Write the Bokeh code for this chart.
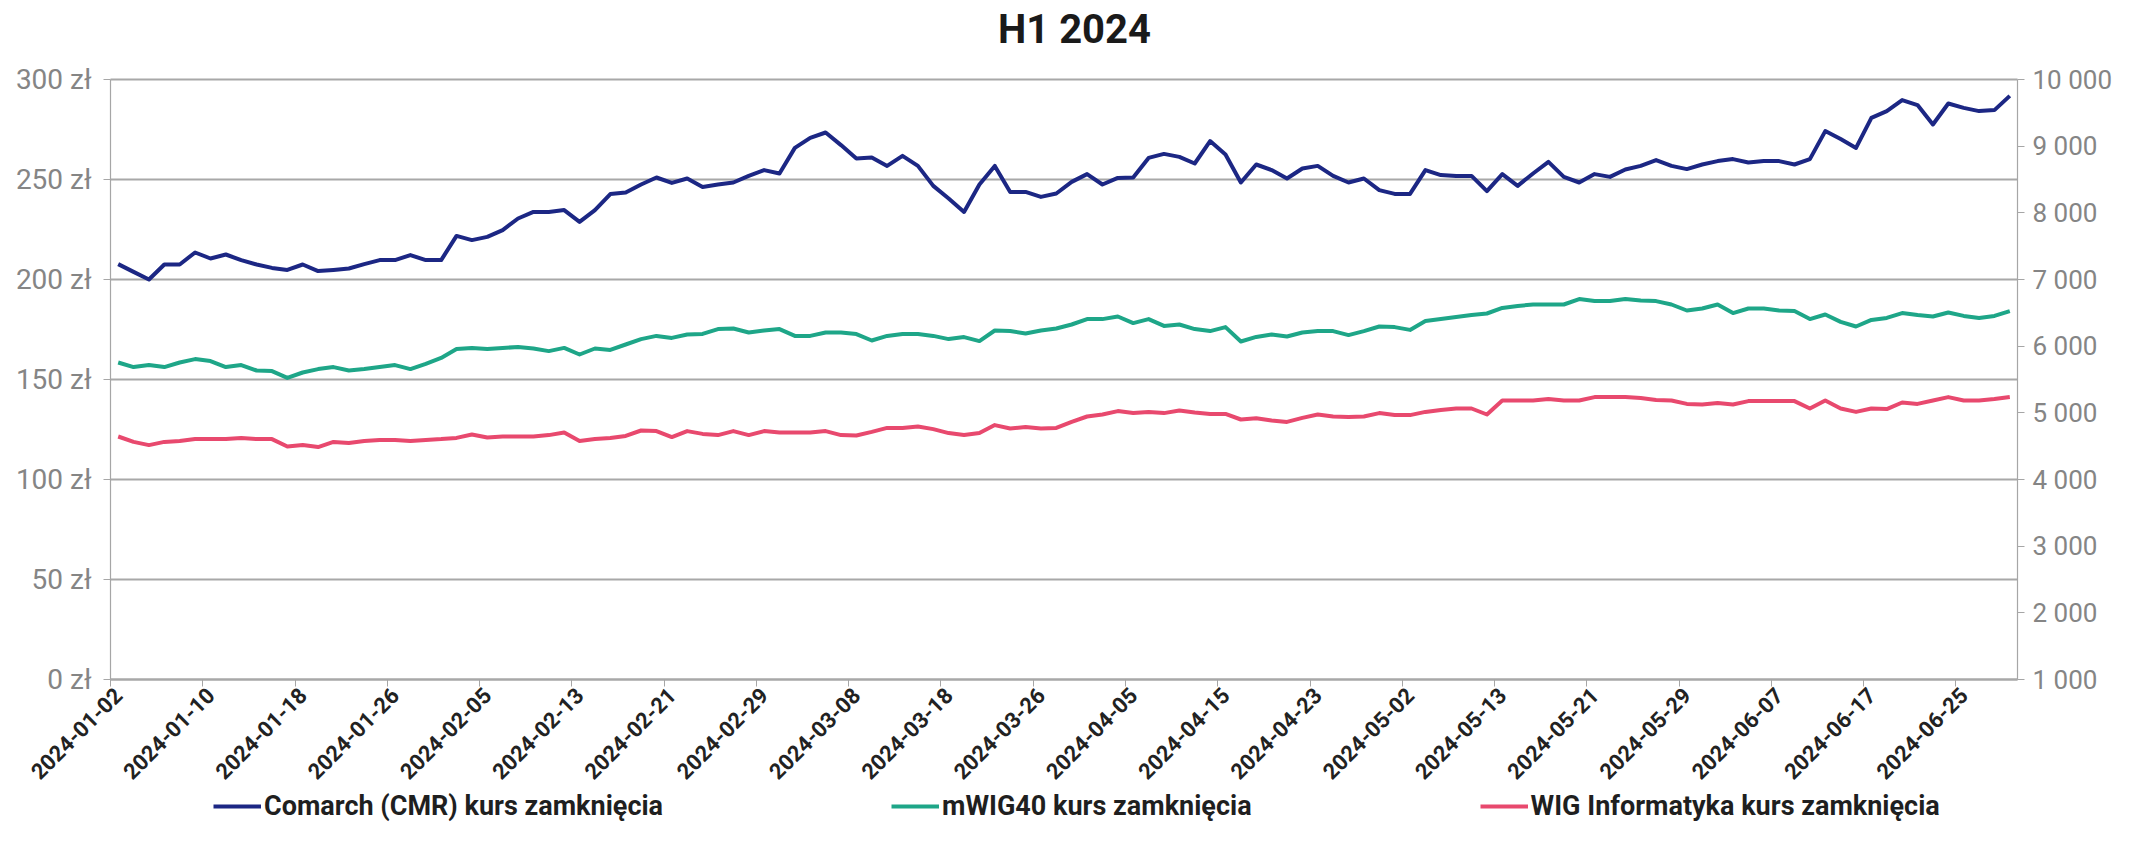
import pandas as pd
from math import pi
from bokeh.plotting import figure
from bokeh.models import (ColumnDataSource, Range1d, LinearAxis, FixedTicker,
                          Legend, LegendItem, Label)
from bokeh.embed import file_html
from bokeh.resources import INLINE

# Polish trading sessions H1 2024 (GPW holidays excluded)
holidays = ["2024-01-01", "2024-03-29", "2024-04-01", "2024-05-01", "2024-05-03", "2024-05-30"]
dates = [d.strftime("%Y-%m-%d") for d in
         pd.bdate_range("2024-01-02", "2024-06-28", freq="C", holidays=holidays)]

comarch = [207.7, 203.8, 200.0, 207.5, 207.5, 213.5, 210.5, 212.5, 209.7, 207.5,
           205.8, 204.8, 207.5, 204.2, 204.8, 205.5, 207.7, 209.7, 209.7, 212.2,
           209.7, 209.7, 221.8, 219.7, 221.3, 224.7, 230.5, 233.8, 233.8, 234.7,
           228.8, 234.7, 242.7, 243.5, 247.5, 251.0, 248.3, 250.5, 246.3, 247.5,
           248.5, 251.8, 254.7, 253.0, 265.8, 270.8, 273.5, 267.2, 260.5, 261.0,
           256.8, 261.8, 256.8, 246.8, 240.5, 233.8, 247.5, 256.8, 243.8, 243.8,
           241.3, 243.0, 248.8, 252.7, 247.5, 250.8, 251.0, 260.8, 262.8, 261.3,
           258.0, 269.2, 262.5, 248.5, 257.5, 254.7, 250.5, 255.5, 256.8, 251.8,
           248.5, 250.5, 244.7, 242.8, 242.8, 254.7, 252.2, 251.7, 251.8, 244.2,
           252.7, 246.8, 253.0, 258.8, 251.3, 248.5, 252.7, 251.3, 255.0, 256.8,
           259.7, 256.8, 255.2, 257.5, 259.2, 260.2, 258.5, 259.2, 259.2, 257.5,
           260.2, 274.2, 270.2, 265.8, 280.8, 284.2, 289.7, 287.2, 277.5, 288.0,
           285.8, 284.2, 284.7, 291.8]

mwig40 = [5755, 5686, 5716, 5686, 5755, 5806, 5776, 5686, 5716, 5635,
          5626, 5524, 5605, 5656, 5686, 5635, 5656, 5686, 5716, 5656,
          5734, 5824, 5956, 5974, 5956, 5974, 5986, 5965, 5926, 5974,
          5875, 5965, 5944, 6025, 6106, 6154, 6124, 6175, 6184, 6256,
          6265, 6205, 6235, 6256, 6154, 6154, 6205, 6205, 6181, 6085,
          6154, 6184, 6184, 6154, 6106, 6136, 6076, 6235, 6226, 6190,
          6235, 6265, 6325, 6406, 6406, 6445, 6346, 6406, 6304, 6325,
          6256, 6226, 6286, 6070, 6139, 6175, 6145, 6205, 6226, 6226,
          6166, 6226, 6295, 6286, 6244, 6376, 6406, 6436, 6466, 6490,
          6574, 6604, 6625, 6625, 6625, 6706, 6676, 6676, 6706, 6685,
          6676, 6625, 6535, 6565, 6625, 6496, 6565, 6565, 6535, 6526,
          6406, 6475, 6364, 6295, 6394, 6424, 6496, 6466, 6445, 6505,
          6454, 6424, 6454, 6526]

wig_info = [4645, 4564, 4516, 4564, 4576, 4606, 4606, 4606, 4624, 4606,
            4606, 4495, 4516, 4486, 4564, 4546, 4576, 4594, 4594, 4576,
            4594, 4606, 4624, 4675, 4630, 4645, 4645, 4645, 4666, 4705,
            4576, 4606, 4624, 4654, 4735, 4726, 4636, 4726, 4684, 4666,
            4726, 4666, 4726, 4705, 4705, 4705, 4726, 4666, 4660, 4714,
            4774, 4774, 4795, 4756, 4696, 4666, 4696, 4816, 4765, 4786,
            4765, 4774, 4864, 4945, 4975, 5026, 4996, 5014, 4996, 5035,
            5005, 4984, 4984, 4900, 4918, 4885, 4864, 4924, 4975, 4945,
            4936, 4945, 4996, 4966, 4966, 5014, 5044, 5065, 5065, 4975,
            5185, 5185, 5185, 5206, 5185, 5185, 5236, 5236, 5236, 5221,
            5194, 5185, 5134, 5125, 5146, 5125, 5176, 5176, 5176, 5176,
            5065, 5185, 5065, 5014, 5065, 5056, 5155, 5134, 5185, 5236,
            5185, 5185, 5206, 5236]

title_text = "H1 2024"
series_names = ["Comarch (CMR) kurs zamknięcia", "mWIG40 kurs zamknięcia",
                "WIG Informatyka kurs zamknięcia"]
series_colors = ["#1c2784", "#1ea688", "#e8496e"]

left_ticks = [0, 50, 100, 150, 200, 250, 300]
left_labels = ["0 zł", "50 zł", "100 zł", "150 zł", "200 zł", "250 zł", "300 zł"]
right_ticks = [1000, 2000, 3000, 4000, 5000, 6000, 7000, 8000, 9000, 10000]
right_labels = ["1 000", "2 000", "3 000", "4 000", "5 000", "6 000", "7 000",
                "8 000", "9 000", "10 000"]
label_step = 6

n = len(dates)
idx = list(range(n))
src = ColumnDataSource(dict(x=idx, date=dates, cmr=comarch, mwig=mwig40, wigi=wig_info))

FONT = "Roboto"
GRAY = "#858585"
AXIS_GRAY = "#a6a6a6"
GRID_GRAY = "#a8a8a8"

# ---- layout: the frame is the whole canvas; the plot area proper
# (0..300 zł) occupies x 110..2017, y 79..679 of the canvas
W, H = 2115, 825
PLOT_L, PLOT_R, PLOT_T, PLOT_B = 110, 2017, 79, 679
TITLE_CX, TITLE_CY = 1074, 29
L_MIN, L_MAX = left_ticks[0], left_ticks[-1]
R_MIN, R_MAX = right_ticks[0], right_ticks[-1]
X0, X1 = -0.5, n - 0.5
px_x = (PLOT_R - PLOT_L) / (X1 - X0)
px_y = (PLOT_B - PLOT_T) / (L_MAX - L_MIN)
above_units = PLOT_T / px_y
below_units = (H - PLOT_B) / px_y
ratio = (R_MAX - R_MIN) / (L_MAX - L_MIN)

p = figure(frame_width=W, frame_height=H, output_backend="svg", toolbar_location=None,
           x_range=Range1d(X0 - PLOT_L / px_x, X1 + (W - PLOT_R) / px_x),
           y_range=Range1d(L_MIN - below_units, L_MAX + above_units),
           min_border_left=0, min_border_right=0, min_border_top=0,
           min_border_bottom=0)
p.extra_y_ranges = {"idx": Range1d(R_MIN - below_units * ratio,
                                   R_MAX + above_units * ratio)}
p.outline_line_color = None
p.background_fill_color = "white"
p.border_fill_color = "white"
p.title.visible = False

# title
p.add_layout(Label(x=X0 + (TITLE_CX - PLOT_L) / px_x,
                   y=L_MAX + (PLOT_T - TITLE_CY) / px_y,
                   text=title_text, text_align="center", text_baseline="middle",
                   text_font=FONT, text_font_size="40px", text_font_style="bold",
                   text_color="#1a1a1a"))

# horizontal grid lines, limited to the plot area
p.xgrid.visible = False
p.ygrid.visible = False
p.segment(x0=[X0] * len(left_ticks), x1=[X1] * len(left_ticks),
          y0=left_ticks, y1=left_ticks, line_color=GRID_GRAY, line_width=2)

LW = 4
r1 = p.line("x", "cmr", source=src, line_color=series_colors[0], line_width=LW,
            line_join="round")
r2 = p.line("x", "mwig", source=src, y_range_name="idx", line_color=series_colors[1],
            line_width=LW, line_join="round")
r3 = p.line("x", "wigi", source=src, y_range_name="idx", line_color=series_colors[2],
            line_width=LW, line_join="round")

# left axis
ya = p.yaxis[0]
ya.fixed_location = X0
ya.bounds = (L_MIN, L_MAX)
ya.ticker = FixedTicker(ticks=left_ticks)
ya.major_label_overrides = {t: l for t, l in zip(left_ticks, left_labels)}
ya.axis_line_color = AXIS_GRAY
ya.axis_line_width = 1.2
ya.major_tick_line_color = AXIS_GRAY
ya.major_tick_out = 7
ya.major_tick_in = 0
ya.minor_tick_line_color = None
ya.major_label_standoff = 12
ya.major_label_text_font = FONT
ya.major_label_text_font_size = "28px"
ya.major_label_text_color = GRAY

# right axis
ra = LinearAxis(y_range_name="idx", ticker=FixedTicker(ticks=right_ticks))
ra.fixed_location = X1
ra.bounds = (R_MIN, R_MAX)
ra.major_label_overrides = {t: l for t, l in zip(right_ticks, right_labels)}
ra.axis_line_color = AXIS_GRAY
ra.axis_line_width = 1.2
ra.major_tick_line_color = AXIS_GRAY
ra.major_tick_out = 7
ra.major_tick_in = 0
ra.minor_tick_line_color = None
ra.major_label_standoff = 8
ra.major_label_text_font = FONT
ra.major_label_text_font_size = "26px"
ra.major_label_text_color = GRAY
p.add_layout(ra, "right")

# bottom axis, drawn at the zero line
label_idx = list(range(0, n, label_step))
bounds = [i - 0.5 for i in range(0, n + 1, label_step)]
xa = p.xaxis[0]
xa.fixed_location = L_MIN
xa.bounds = (X0, X1)
xa.ticker = FixedTicker(ticks=label_idx, minor_ticks=bounds)
xa.major_label_overrides = {i: dates[i] for i in label_idx}
xa.major_label_orientation = pi / 4
xa.major_tick_out = 0
xa.major_tick_in = 0
xa.minor_tick_out = 7
xa.minor_tick_in = 0
xa.minor_tick_line_color = AXIS_GRAY
xa.axis_line_color = GRID_GRAY
xa.axis_line_width = 2
xa.major_label_standoff = 5
xa.major_label_text_font = FONT
xa.major_label_text_font_size = "22px"
xa.major_label_text_font_style = "bold"
xa.major_label_text_color = "#222222"

legend = Legend(items=[LegendItem(label=series_names[0], renderers=[r1]),
                       LegendItem(label=series_names[1], renderers=[r2]),
                       LegendItem(label=series_names[2], renderers=[r3])],
                orientation="horizontal", location=(PLOT_L + 103, 3),
                spacing=228, padding=0, margin=0, glyph_width=48, glyph_height=20,
                label_standoff=3, label_height=20,
                label_text_font=FONT, label_text_font_size="27px",
                label_text_font_style="bold", label_text_color="#1f1f1f",
                border_line_color=None, background_fill_alpha=0)
p.add_layout(legend)

open("out.html", "w").write(file_html(p, INLINE))
